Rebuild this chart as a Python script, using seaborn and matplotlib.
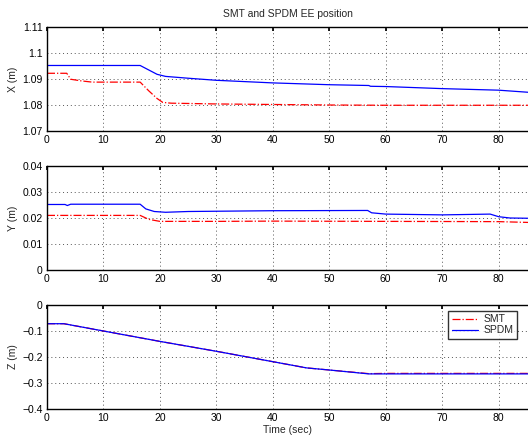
import pandas as pd
import matplotlib.pyplot as plt
import seaborn as sns
import numpy as np

sns.set_theme(style="white")
plt.rcParams['font.family'] = ['Liberation Sans', 'DejaVu Sans']

t_x_spdm = [0, 16.5, 18, 19.5, 21, 25, 30, 40, 50, 57, 57.3, 60, 70, 80, 85.2]
x_spdm = [1.0952, 1.0952, 1.0935, 1.0918, 1.0910, 1.0903, 1.0895, 1.0885, 1.0878, 1.0875, 1.0872, 1.0871, 1.0863, 1.0857, 1.0849]
t_x_smt = [0, 3.5, 4.2, 6, 8, 16.5, 18, 19.5, 20.5, 22, 30, 40, 50, 60, 85.2]
x_smt = [1.0922, 1.0922, 1.0899, 1.0893, 1.0888, 1.0888, 1.0855, 1.0825, 1.0810, 1.0807, 1.0804, 1.0802, 1.0800, 1.0799, 1.0799]

t_y_spdm = [0, 3.2, 3.6, 4.2, 16.5, 17.5, 19, 21, 25, 40, 56.8, 57.5, 60, 70, 78.5, 80, 82, 85.2]
y_spdm = [0.0252, 0.0252, 0.0248, 0.0253, 0.0253, 0.0235, 0.0225, 0.0222, 0.0225, 0.0228, 0.0229, 0.0220, 0.0215, 0.0212, 0.0215, 0.0205, 0.0200, 0.0199]
t_y_smt = [0, 16.5, 18, 20, 30, 40, 60, 80, 85.2]
y_smt = [0.0210, 0.0210, 0.0195, 0.0187, 0.0187, 0.0188, 0.0187, 0.0186, 0.0183]

t_z = [0, 3, 10, 20, 30, 40, 46, 50, 57, 60, 70, 85.2]
z_spdm = [-0.072, -0.072, -0.100, -0.140, -0.178, -0.218, -0.242, -0.250, -0.265, -0.265, -0.265, -0.265]
z_smt = [-0.072, -0.072, -0.100, -0.140, -0.178, -0.218, -0.242, -0.250, -0.264, -0.263, -0.263, -0.263]

fig = plt.figure(figsize=(5.28, 4.4), dpi=100)
W, H = 528, 440
ax_pos = [(27, 131), (166, 270), (305, 409)]
axes = [fig.add_axes([47 / W, 1 - b / H, (528 - 47) / W, (b - t) / H]) for t, b in ax_pos]

fs = 7.5
panels = [
    (t_x_smt, x_smt, t_x_spdm, x_spdm, "X (m)", (1.07, 1.11), [1.07, 1.08, 1.09, 1.1, 1.11], ["1.07", "1.08", "1.09", "1.1", "1.11"]),
    (t_y_smt, y_smt, t_y_spdm, y_spdm, "Y (m)", (0, 0.04), [0, 0.01, 0.02, 0.03, 0.04], ["0", "0.01", "0.02", "0.03", "0.04"]),
    (t_z, z_smt, t_z, z_spdm, "Z (m)", (-0.4, 0), [-0.4, -0.3, -0.2, -0.1, 0], ["\u22120.4", "\u22120.3", "\u22120.2", "\u22120.1", "0"]),
]

for ax, (ts, ys, tp, yp, lab, ylim, yt, ytl) in zip(axes, panels):
    sns.lineplot(x=ts, y=ys, ax=ax, color="red", linestyle="-.", linewidth=0.9, label="SMT")
    sns.lineplot(x=tp, y=yp, ax=ax, color="blue", linestyle="-", linewidth=0.9, label="SPDM")
    ax.set_xlim(0, 85.2)
    ax.set_ylim(*ylim)
    ax.set_xticks(range(0, 90, 10))
    ax.set_yticks(yt)
    ax.set_yticklabels(ytl)
    ax.set_ylabel(lab, fontsize=fs, labelpad=3)
    ax.tick_params(labelsize=fs, direction="in", length=3, top=True, right=False, pad=3, colors="black")
    ax.grid(True, color="#555555", linestyle=(0, (1, 3)), linewidth=0.7)
    for s in ["left", "bottom", "top"]:
        ax.spines[s].set_color("black")
        ax.spines[s].set_linewidth(1.0)
    ax.spines["right"].set_visible(False)
    ax.get_legend().remove()

axes[0].set_title("SMT and SPDM EE position", fontsize=fs, pad=7)
axes[2].set_xlabel("Time (sec)", fontsize=fs, labelpad=1)
leg = axes[2].legend(loc="upper right", bbox_to_anchor=(0.988, 0.99), fontsize=fs, frameon=True, fancybox=False,
                     edgecolor="black", handlelength=2.5, borderpad=0.3, labelspacing=0.1, handletextpad=0.6)
leg.get_frame().set_linewidth(1.0)

fig.savefig("out.png", dpi=100)
